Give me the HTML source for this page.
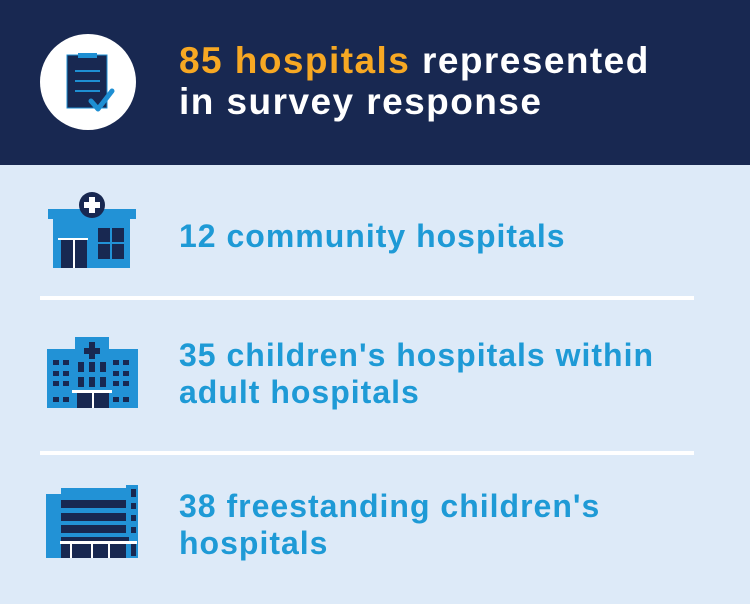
<!DOCTYPE html>
<html><head><style>
body{margin:0;width:750px;height:604px;background:#ddeaf8;font-family:"Liberation Sans",sans-serif;position:relative;overflow:hidden}
.hdr{position:absolute;left:0;top:0;width:750px;height:165px;background:#182851}
.t{position:absolute;left:179px;font-weight:bold;white-space:nowrap}
.h{color:#fff;font-size:37px;line-height:40px;letter-spacing:1.45px}
.b{color:#1e9ad6;font-size:32px;line-height:37px;letter-spacing:1px}
.line{position:absolute;left:40px;width:654px;height:4px;background:#fff}
</style></head><body>
<div class="hdr"></div>
<div class="t h" style="top:41px"><span style="color:#f7a823">85 hospitals</span> represented</div>
<div class="t h" style="top:82px">in survey response</div>
<div class="t b" style="top:218px">12 community hospitals</div>
<div class="t b" style="top:337px">35 children's hospitals within</div>
<div class="t b" style="top:374px">adult hospitals</div>
<div class="t b" style="top:488px">38 freestanding children's</div>
<div class="t b" style="top:525px">hospitals</div>
<div class="line" style="top:296px"></div>
<div class="line" style="top:451px"></div>
<svg width="750" height="604" style="position:absolute;left:0;top:0">
<circle cx="88" cy="82" r="48" fill="#fff"/>
<rect x="67" y="55" width="40" height="53" fill="#182851" stroke="#1e8fd3" stroke-width="1"/>
<rect x="78" y="53" width="19" height="5" fill="#1e8fd3"/>
<g stroke="#1e8fd3" stroke-width="2"><line x1="75" y1="71" x2="100" y2="71"/><line x1="75" y1="81" x2="100" y2="81"/><line x1="75" y1="91" x2="100" y2="91"/></g>
<polyline points="91,101 98,109 112,91" fill="none" stroke="#1e8fd3" stroke-width="5" stroke-linecap="round" stroke-linejoin="round"/>
<rect x="48" y="209" width="88" height="10" fill="#2292d6"/>
<rect x="53" y="219" width="77" height="49" fill="#2292d6"/>
<circle cx="92" cy="205" r="13" fill="#182851"/>
<rect x="89" y="197" width="6" height="16" fill="#fff"/><rect x="84" y="202" width="16" height="6" fill="#fff"/>
<rect x="58" y="238" width="30" height="2" fill="#fff"/>
<rect x="61" y="240" width="26" height="28" fill="#182851"/><rect x="73" y="240" width="2" height="28" fill="#fff"/>
<rect x="98" y="228" width="26" height="31" fill="#182851"/><rect x="110" y="228" width="2" height="31" fill="#2292d6"/><rect x="98" y="242" width="26" height="2" fill="#2292d6"/>
<rect x="47" y="349" width="91" height="59" fill="#2292d6"/>
<rect x="75" y="337" width="34" height="71" fill="#2292d6"/>
<rect x="89" y="342" width="6" height="17" fill="#182851"/><rect x="84" y="348" width="16" height="6" fill="#182851"/>
<g fill="#182851">
<rect x="53" y="360" width="6" height="5"/><rect x="63" y="360" width="6" height="5"/><rect x="53" y="371" width="6" height="5"/><rect x="63" y="371" width="6" height="5"/><rect x="53" y="381" width="6" height="5"/><rect x="63" y="381" width="6" height="5"/><rect x="53" y="397" width="6" height="5"/><rect x="63" y="397" width="6" height="5"/>
<rect x="113" y="360" width="6" height="5"/><rect x="123" y="360" width="6" height="5"/><rect x="113" y="371" width="6" height="5"/><rect x="123" y="371" width="6" height="5"/><rect x="113" y="381" width="6" height="5"/><rect x="123" y="381" width="6" height="5"/><rect x="113" y="397" width="6" height="5"/><rect x="123" y="397" width="6" height="5"/>
<rect x="78" y="362" width="6" height="10"/><rect x="89" y="362" width="6" height="10"/><rect x="100" y="362" width="6" height="10"/>
<rect x="78" y="377" width="6" height="10"/><rect x="89" y="377" width="6" height="10"/><rect x="100" y="377" width="6" height="10"/>
<rect x="77" y="393" width="32" height="15"/></g>
<rect x="72" y="390" width="40" height="3" fill="#fff"/><rect x="92" y="393" width="2" height="15" fill="#fff"/>
<rect x="46" y="494" width="20" height="64" fill="#2292d6"/>
<rect x="61" y="488" width="68" height="70" fill="#2292d6"/>
<rect x="126" y="485" width="12" height="73" fill="#2292d6"/>
<g fill="#182851">
<rect x="61" y="500" width="65" height="8"/><rect x="61" y="513" width="65" height="8"/><rect x="61" y="525" width="65" height="8"/>
<rect x="131" y="489" width="5" height="8"/><rect x="131" y="503" width="5" height="6"/><rect x="131" y="515" width="5" height="6"/><rect x="131" y="527" width="5" height="6"/><rect x="131" y="543" width="5" height="13"/>
<rect x="61" y="537" width="68" height="4"/>
<rect x="61" y="543" width="65" height="15"/></g>
<g fill="#fff"><rect x="60" y="541" width="77" height="3"/><rect x="70" y="544" width="2" height="14"/><rect x="91" y="544" width="2" height="14"/><rect x="108" y="544" width="2" height="14"/></g>
</svg>
</body></html>
